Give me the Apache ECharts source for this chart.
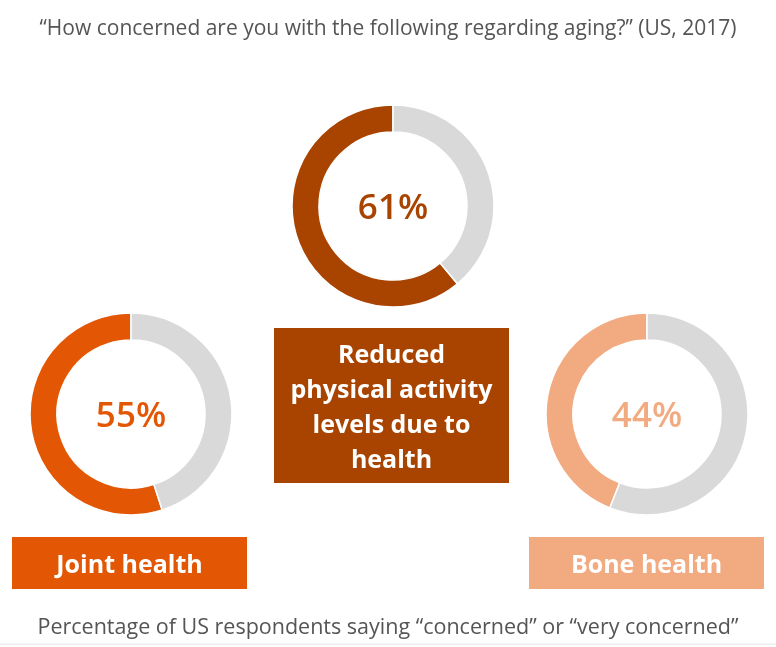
<!DOCTYPE html>
<html>
<head>
<meta charset="utf-8">
<script src="https://cdn.jsdelivr.net/npm/echarts@6/dist/echarts.min.js"></script>
<style>
  html, body { margin: 0; padding: 0; background: #fff; }
  #chart { width: 776px; height: 647px; }
</style>
</head>
<body>
<div id="chart"></div>
<script>
// categories and share of respondents "concerned" or "very concerned"
const categories = ['Joint health', 'Reduced\nphysical activity\nlevels due to\nhealth', 'Bone health'];
const concerned = [55, 61, 44];
const colors = ['#E35704', '#A84300', '#F2AB80'];

const centers = [[131, 414], [393, 206], [647, 414]];
const boxes = [
  { x: 12, y: 537, w: 235, h: 52 },
  { x: 274, y: 328, w: 235, h: 155 },
  { x: 529, y: 537, w: 235, h: 52 }
];

const font = '"Open Sans", Lato, sans-serif';

let series = concerned.map((v, i) => ({
  type: 'pie',
  center: centers[i],
  radius: [74, 101],
  startAngle: 90,
  clockwise: false,
  silent: true,
  emphasis: { disabled: true },
  labelLine: { show: false },
  itemStyle: { borderColor: '#fff', borderWidth: 1.5 },
  data: [
    {
      value: v,
      itemStyle: { color: colors[i] },
      label: {
        show: true,
        position: 'center',
        offset: [0, 3],
        formatter: '{c}%',
        fontFamily: font,
        fontWeight: 600,
        fontSize: 35,
        color: colors[i]
      }
    },
    {
      value: 100 - v,
      itemStyle: { color: '#D9D9D9' },
      label: { show: false }
    }
  ]
}));

let graphics = [];
boxes.forEach((b, i) => {
  graphics.push({
    type: 'rect',
    shape: { x: b.x, y: b.y, width: b.w, height: b.h },
    style: { fill: colors[i] },
    silent: true
  });
  graphics.push({
    type: 'text',
    x: b.x + b.w / 2,
    y: b.y + b.h / 2 + 3,
    style: {
      text: categories[i],
      fill: '#fff',
      font: 'bold 25px ' + font,
      textAlign: 'center',
      textVerticalAlign: 'middle',
      lineHeight: 35
    },
    silent: true
  });
});
graphics.push({
  type: 'line',
  shape: { x1: 0, y1: 644, x2: 776, y2: 644 },
  style: { stroke: '#E6E6E6', lineWidth: 1 },
  silent: true
});

let options = {
  animation: false,
  title: [
    {
      text: '\u201cHow concerned are you with the following regarding aging?\u201d (US, 2017)',
      left: 'center',
      top: 14,
      textStyle: { fontFamily: font, fontWeight: 'normal', fontSize: 21, color: '#555' }
    },
    {
      text: 'Percentage of US respondents saying \u201cconcerned\u201d or \u201cvery concerned\u201d',
      left: 'center',
      top: 612,
      textStyle: { fontFamily: font, fontWeight: 'normal', fontSize: 21.5, color: '#555' }
    }
  ],
  graphic: graphics,
  series: series
};

let chart = echarts.init(document.getElementById('chart'));
chart.setOption(options);
</script>
</body>
</html>
